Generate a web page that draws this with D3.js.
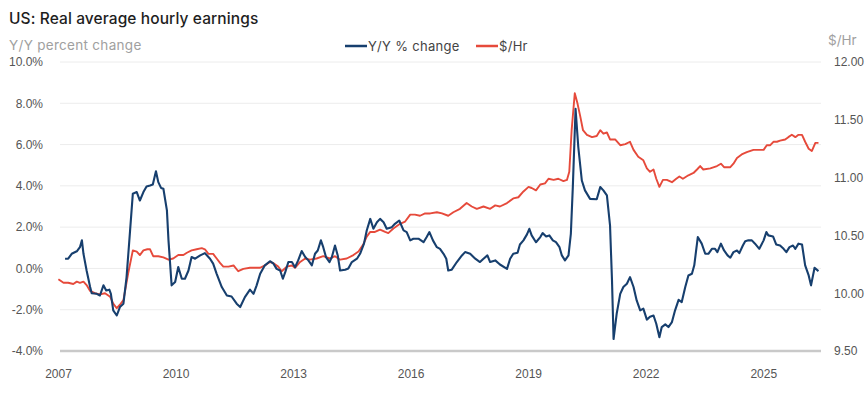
<!DOCTYPE html>
<html>
<head>
<meta charset="utf-8">
<script src="https://cdn.jsdelivr.net/npm/d3@7"></script>
<style>
  body { margin: 0; background: #fff; }
  svg { display: block; font-family: "Inter", "Noto Sans", sans-serif; }
</style>
</head>
<body>
<div id="chart"></div>
<script>
// ---- data ----
const yoyDates = [2007.18,2007.26,2007.35,2007.48,2007.56,2007.61,2007.65,2007.73,2007.82,2007.86,2007.99,2008.07,2008.16,2008.23,2008.31,2008.35,2008.41,2008.50,2008.58,2008.67,2008.75,2008.84,2008.91,2009.01,2009.09,2009.18,2009.26,2009.35,2009.42,2009.50,2009.56,2009.63,2009.69,2009.78,2009.82,2009.90,2009.99,2010.07,2010.16,2010.24,2010.33,2010.41,2010.50,2010.63,2010.75,2010.88,2010.96,2011.05,2011.18,2011.31,2011.43,2011.56,2011.65,2011.77,2011.90,2011.99,2012.07,2012.16,2012.28,2012.41,2012.50,2012.58,2012.67,2012.74,2012.80,2012.88,2012.97,2013.05,2013.13,2013.22,2013.31,2013.39,2013.48,2013.56,2013.63,2013.71,2013.77,2013.84,2013.93,2013.99,2014.07,2014.14,2014.20,2014.33,2014.41,2014.50,2014.63,2014.71,2014.81,2014.88,2014.97,2015.05,2015.14,2015.22,2015.31,2015.39,2015.52,2015.60,2015.71,2015.82,2015.90,2015.99,2016.07,2016.20,2016.33,2016.41,2016.48,2016.57,2016.67,2016.75,2016.84,2016.91,2016.96,2017.05,2017.18,2017.31,2017.39,2017.52,2017.65,2017.77,2017.86,2017.96,2018.03,2018.16,2018.28,2018.46,2018.54,2018.62,2018.73,2018.79,2018.88,2018.97,2019.03,2019.09,2019.20,2019.31,2019.37,2019.46,2019.54,2019.63,2019.71,2019.80,2019.86,2019.94,2020.03,2020.09,2020.14,2020.21,2020.28,2020.37,2020.45,2020.58,2020.75,2020.84,2020.92,2021.01,2021.09,2021.14,2021.18,2021.26,2021.35,2021.43,2021.52,2021.60,2021.69,2021.77,2021.86,2021.94,2022.03,2022.11,2022.20,2022.27,2022.35,2022.41,2022.50,2022.58,2022.67,2022.75,2022.84,2022.92,2023.01,2023.09,2023.18,2023.24,2023.33,2023.43,2023.52,2023.60,2023.69,2023.77,2023.83,2023.92,2024.00,2024.09,2024.16,2024.24,2024.33,2024.39,2024.48,2024.54,2024.62,2024.71,2024.79,2024.90,2025.01,2025.08,2025.13,2025.25,2025.33,2025.43,2025.52,2025.59,2025.67,2025.76,2025.82,2025.90,2025.99,2026.07,2026.16,2026.22,2026.31,2026.41]
const yoyValues = [0.47,0.47,0.71,0.83,1.03,1.36,0.71,-0.1,-0.9,-1.2,-1.23,-1.31,-0.82,-1.07,-1.03,-1.23,-2.03,-2.28,-1.87,-1.71,-0.42,1.84,3.62,3.7,3.29,3.7,3.97,4.02,4.07,4.71,4.18,3.9,3.86,2.81,1.36,-0.82,-0.66,0.07,-0.5,-0.5,-0.1,0.55,0.47,0.63,0.74,0.47,0.23,-0.26,-0.9,-1.31,-1.36,-1.71,-1.87,-1.39,-1.03,-1.23,-0.82,-0.26,0.15,0.35,0.23,-0.02,-0.1,-0.5,-0.18,0.31,0.31,0.06,0.39,0.84,0.55,0.39,0.15,0.71,0.87,1.36,1.03,0.55,0.31,0.55,1.11,0.63,-0.1,-0.06,0.0,0.31,0.47,0.71,1.2,1.84,2.4,1.92,2.24,2.4,2.24,1.92,2.0,2.16,2.32,1.84,1.76,1.36,1.44,1.44,1.27,1.52,1.76,1.36,1.03,0.95,0.71,0.47,-0.1,-0.06,0.31,0.63,0.79,0.71,0.47,0.31,0.47,0.63,0.31,0.39,0.19,-0.02,0.47,0.71,0.76,1.16,1.36,1.65,1.92,1.6,1.27,1.52,1.71,1.55,1.6,1.36,1.27,1.03,0.63,0.39,0.63,1.68,3.94,7.73,5.87,4.26,3.78,3.37,3.35,3.94,3.78,3.54,2.08,-0.58,-3.42,-2.19,-1.23,-0.9,-0.74,-0.42,-0.9,-1.55,-2.03,-1.95,-2.48,-2.34,-2.28,-2.68,-3.33,-2.84,-2.71,-2.84,-2.6,-2.03,-1.52,-1.63,-0.9,-0.34,-0.26,0.15,1.52,1.2,0.71,0.71,0.95,0.95,0.79,1.2,0.87,0.63,0.52,0.79,0.87,0.74,1.11,1.32,1.36,1.36,1.2,0.95,1.36,1.76,1.6,1.55,1.16,1.11,0.95,0.79,1.03,1.11,0.95,1.2,1.16,0.15,-0.34,-0.82,0.03,-0.13]

const hrDates = [2007.01,2007.14,2007.26,2007.39,2007.48,2007.56,2007.65,2007.73,2007.82,2007.94,2008.07,2008.20,2008.33,2008.41,2008.50,2008.58,2008.67,2008.79,2008.91,2009.01,2009.09,2009.18,2009.28,2009.35,2009.43,2009.56,2009.69,2009.82,2009.94,2010.07,2010.20,2010.29,2010.41,2010.54,2010.67,2010.75,2010.84,2010.96,2011.05,2011.14,2011.22,2011.35,2011.48,2011.60,2011.73,2011.90,2011.99,2012.16,2012.28,2012.41,2012.50,2012.62,2012.71,2012.84,2012.97,2013.05,2013.18,2013.31,2013.43,2013.60,2013.77,2013.94,2014.07,2014.20,2014.37,2014.54,2014.67,2014.79,2014.88,2014.97,2015.09,2015.22,2015.35,2015.43,2015.56,2015.73,2015.86,2015.99,2016.11,2016.24,2016.37,2016.50,2016.67,2016.80,2016.96,2017.09,2017.26,2017.43,2017.56,2017.69,2017.86,2018.03,2018.16,2018.28,2018.46,2018.62,2018.75,2018.88,2019.01,2019.09,2019.20,2019.31,2019.43,2019.52,2019.65,2019.77,2019.90,2019.99,2020.05,2020.11,2020.19,2020.26,2020.33,2020.40,2020.50,2020.63,2020.75,2020.84,2020.92,2021.01,2021.09,2021.22,2021.35,2021.48,2021.60,2021.69,2021.81,2021.94,2022.03,2022.11,2022.20,2022.27,2022.35,2022.44,2022.54,2022.67,2022.78,2022.86,2022.95,2023.09,2023.22,2023.31,2023.39,2023.47,2023.65,2023.82,2023.92,2024.00,2024.16,2024.24,2024.33,2024.45,2024.58,2024.75,2024.88,2025.01,2025.09,2025.18,2025.26,2025.35,2025.43,2025.56,2025.64,2025.73,2025.82,2025.90,2025.99,2026.07,2026.16,2026.24,2026.33,2026.41]
const hrValues = [10.12,10.09,10.09,10.08,10.10,10.09,10.10,10.07,10.02,10.00,9.99,10.00,9.97,9.91,9.87,9.90,9.94,10.17,10.37,10.36,10.33,10.37,10.38,10.38,10.32,10.32,10.31,10.29,10.30,10.33,10.33,10.35,10.37,10.38,10.39,10.38,10.34,10.34,10.30,10.26,10.23,10.23,10.24,10.19,10.21,10.22,10.22,10.22,10.24,10.27,10.26,10.23,10.19,10.23,10.24,10.22,10.27,10.30,10.29,10.30,10.32,10.30,10.32,10.29,10.30,10.33,10.36,10.42,10.49,10.53,10.53,10.55,10.53,10.52,10.56,10.60,10.62,10.68,10.68,10.67,10.69,10.69,10.70,10.69,10.67,10.70,10.73,10.78,10.75,10.73,10.75,10.73,10.76,10.75,10.78,10.82,10.83,10.88,10.92,10.91,10.89,10.94,10.95,10.99,10.98,10.99,10.97,10.98,11.05,11.41,11.73,11.64,11.53,11.41,11.37,11.35,11.36,11.41,11.38,11.39,11.33,11.33,11.28,11.29,11.31,11.24,11.18,11.15,11.08,11.05,11.07,10.99,10.92,10.98,10.98,10.96,10.99,11.01,10.99,11.02,11.04,11.07,11.10,11.07,11.08,11.10,11.12,11.09,11.09,11.12,11.17,11.20,11.22,11.24,11.24,11.24,11.28,11.28,11.31,11.31,11.32,11.33,11.35,11.37,11.35,11.37,11.37,11.31,11.25,11.23,11.30,11.30]

const leftTicks = [-4, -2, 0, 2, 4, 6, 8, 10]
const rightTicks = [9.5, 10, 10.5, 11, 11.5, 12]
const yearTicks = [2007, 2010, 2013, 2016, 2019, 2022, 2025]

const title = "US: Real average hourly earnings"
const leftLabel = "Y/Y percent change"
const rightLabel = "$/Hr"
const seriesNames = ["Y/Y % change", "$/Hr"]
const colors = { yoy: "#173f6e", hr: "#e64a3b" }

// ---- chart ----
const W = 868, H = 406
const margin = { top: 62, right: 46, bottom: 55, left: 58 }
const width = W - margin.left - margin.right
const height = H - margin.top - margin.bottom

const svg = d3.select("#chart").append("svg")
  .attr("width", W)
  .attr("height", H)

const g = svg.append("g")
  .attr("transform", `translate(${margin.left}, ${margin.top})`)

const x = d3.scaleLinear().domain([2007, 2026.5]).range([0, width])
const yL = d3.scaleLinear().domain([-4, 10]).range([height, 0])
const yR = d3.scaleLinear().domain([9.5, 12]).range([height, 0])

// grid lines
g.append("g")
  .selectAll("line")
  .data(leftTicks.filter(d => d !== -4))
  .join("line")
  .attr("x1", 2).attr("x2", width - 1)
  .attr("y1", d => yL(d)).attr("y2", d => yL(d))
  .attr("stroke", "#ececec")
  .attr("stroke-width", 1)

// baseline
g.append("line")
  .attr("x1", 2).attr("x2", width - 1)
  .attr("y1", height).attr("y2", height)
  .attr("stroke", "#c9c9c9")
  .attr("stroke-width", 2.5)

// left axis
g.append("g")
  .call(d3.axisLeft(yL).tickValues(leftTicks).tickSize(0).tickPadding(15)
    .tickFormat(d => d.toFixed(1) + "%"))
  .call(a => a.select(".domain").remove())
  .selectAll("text")
    .style("font-size", "12px")
    .style("fill", "#555")

// right axis
g.append("g")
  .attr("transform", `translate(${width}, 0)`)
  .call(d3.axisRight(yR).tickValues(rightTicks).tickSize(0).tickPadding(12)
    .tickFormat(d => d.toFixed(2)))
  .call(a => a.select(".domain").remove())
  .selectAll("text")
    .style("font-size", "12px")
    .style("fill", "#555")

// x axis
g.append("g")
  .attr("transform", `translate(0, ${height})`)
  .call(d3.axisBottom(x).tickValues(yearTicks).tickSize(0).tickPadding(18)
    .tickFormat(d3.format("d")))
  .call(a => a.select(".domain").remove())
  .selectAll("text")
    .style("font-size", "12px")
    .style("fill", "#555")

// lines
const hrLine = d3.line()
  .x((d, i) => x(hrDates[i]))
  .y(d => yR(d))
const yoyLine = d3.line()
  .x((d, i) => x(yoyDates[i]))
  .y(d => yL(d))

g.append("path")
  .datum(hrValues)
  .attr("fill", "none")
  .attr("stroke", colors.hr)
  .attr("stroke-width", 1.9)
  .attr("stroke-linejoin", "round")
  .attr("d", hrLine)

g.append("path")
  .datum(yoyValues)
  .attr("fill", "none")
  .attr("stroke", colors.yoy)
  .attr("stroke-width", 2.1)
  .attr("stroke-linejoin", "round")
  .attr("d", yoyLine)

// titles
svg.append("text")
  .attr("x", 9).attr("y", 24)
  .style("font-size", "15.5px")
  .style("font-weight", 500)
  .style("letter-spacing", "0.1px")
  .style("fill", "#1e1e1e")
  .text(title)

svg.append("text")
  .attr("x", 9).attr("y", 50)
  .style("font-size", "13.5px")
  .style("letter-spacing", "0.3px")
  .style("fill", "#a0a0a0")
  .text(leftLabel)

svg.append("text")
  .attr("x", 828).attr("y", 45)
  .style("font-size", "13.5px")
  .style("fill", "#a0a0a0")
  .text(rightLabel)

// legend
const legend = svg.append("g").attr("transform", "translate(345, 46)")
const items = [
  { name: seriesNames[0], color: colors.yoy, dx: 0 },
  { name: seriesNames[1], color: colors.hr, dx: 131 }
]
const li = legend.selectAll("g").data(items).join("g")
  .attr("transform", d => `translate(${d.dx}, 0)`)
li.append("line")
  .attr("x1", 0).attr("x2", 22)
  .attr("stroke", d => d.color)
  .attr("stroke-width", 2.5)
li.append("text")
  .attr("x", 23).attr("y", 4.5)
  .style("font-size", "13px")
  .style("letter-spacing", "0.3px")
  .style("fill", "#444")
  .text(d => d.name)
</script>
</body>
</html>
